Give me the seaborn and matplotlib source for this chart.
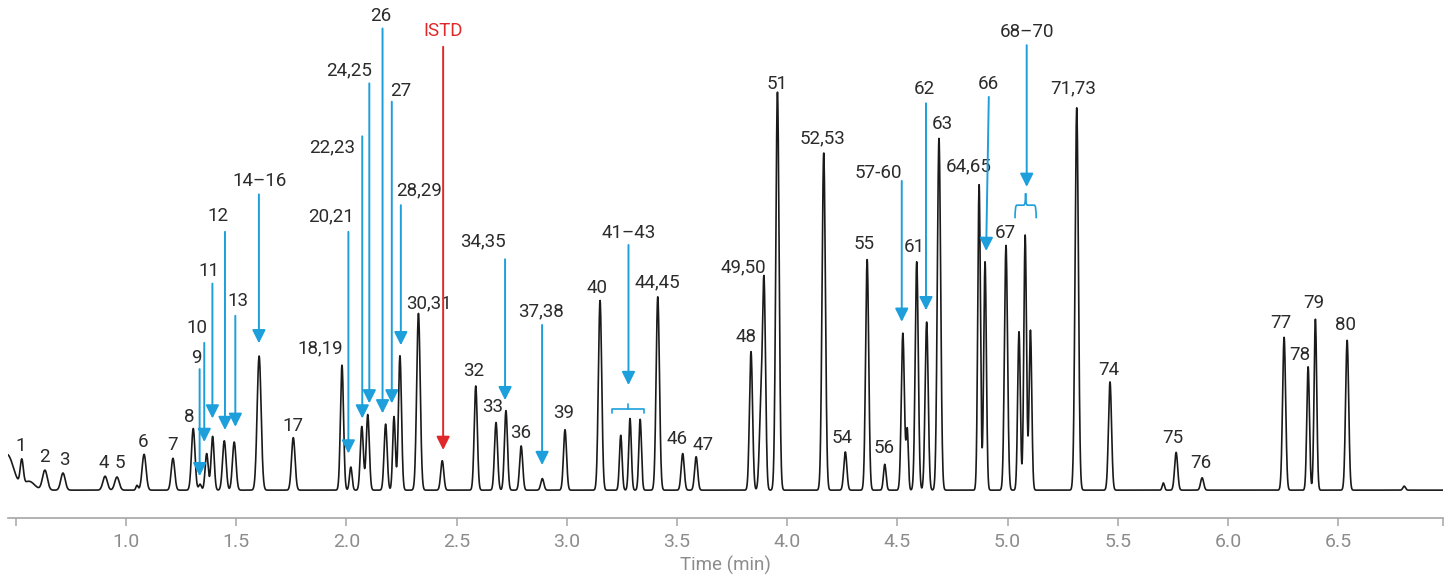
import numpy as np
import pandas as pd
import seaborn as sns
from matplotlib import pyplot as plt
from matplotlib.path import Path
from matplotlib.patches import PathPatch


sns.set_theme(style='white')
plt.rcParams['font.family'] = ['Roboto', 'DejaVu Sans']

# Peak table:
# retention time (min), apex height (% of peak 51), gaussian width (min).
peak_rt = [0.460, 0.560, 0.527, 0.632, 0.714, 0.905, 0.959, 1.050, 1.082, 1.213,
           1.305, 1.336, 1.366, 1.393, 1.446, 1.491, 1.604, 1.759, 1.980, 2.020,
           2.070, 2.097, 2.178, 2.216, 2.243, 2.327, 2.435, 2.587, 2.679, 2.724,
           2.793, 2.889, 2.992, 3.151, 3.245, 3.287, 3.333, 3.413, 3.526, 3.587,
           3.836, 3.880, 3.895, 3.956, 4.166, 4.264, 4.363, 4.443, 4.525, 4.545,
           4.588, 4.633, 4.689, 4.871, 4.898, 4.993, 5.052, 5.080, 5.104, 5.314,
           5.465, 5.707, 5.765, 5.883, 6.255, 6.364, 6.397, 6.541, 6.800]
peak_height = [9.0, 2.2, 6.2, 5.0, 4.3, 3.5, 3.3, 1.2, 9.0, 8.0,
               15.5, 1.5, 9.2, 13.5, 12.4, 12.1, 33.7, 13.2, 31.4, 5.8,
               16.0, 19.0, 16.6, 18.5, 33.8, 44.4, 7.4, 26.2, 17.0, 20.0,
               11.1, 2.9, 15.2, 47.7, 13.8, 18.0, 17.8, 48.6, 9.2, 8.4,
               34.8, 18.0, 52.0, 100.0, 84.8, 9.6, 58.0, 6.5, 39.5, 15.0,
               57.4, 42.3, 88.4, 76.9, 57.5, 61.6, 39.8, 64.1, 40.2, 96.2,
               27.2, 1.8, 9.5, 3.1, 38.4, 31.0, 43.0, 37.7, 1.0]
peak_sigma = [0.030, 0.025, 0.007, 0.011, 0.010, 0.010, 0.010, 0.005, 0.009, 0.008,
              0.008, 0.006, 0.007, 0.007, 0.008, 0.008, 0.009, 0.008, 0.007, 0.006,
              0.007, 0.007, 0.007, 0.006, 0.007, 0.008, 0.007, 0.007, 0.007, 0.007,
              0.007, 0.007, 0.007, 0.0075, 0.006, 0.006, 0.006, 0.0075, 0.007, 0.007,
              0.007, 0.007, 0.007, 0.0075, 0.0075, 0.007, 0.007, 0.006, 0.007, 0.005,
              0.007, 0.007, 0.0075, 0.006, 0.006, 0.007, 0.006, 0.006, 0.006, 0.0075,
              0.007, 0.005, 0.007, 0.007, 0.007, 0.006, 0.006, 0.007, 0.006]

# Peak labels written straight above the peaks.
label_text = ['1', '2', '3', '4', '5', '6', '7', '8', '17', '18,19',
              '30,31', '32', '33', '36', '39', '40', '44,45', '46', '47', '48',
              '49,50', '51', '52,53', '54', '55', '56', '61', '63', '64,65', '67',
              '71,73', '74', '75', '76', '77', '78', '79', '80']
label_rt = [0.522, 0.632, 0.719, 0.897, 0.973, 1.076, 1.210, 1.287, 1.759, 1.880,
            2.375, 2.576, 2.662, 2.791, 2.985, 3.139, 3.411, 3.499, 3.620, 3.814,
            3.801, 3.953, 4.162, 4.248, 4.349, 4.441, 4.577, 4.702, 4.822, 4.989,
            5.296, 5.458, 5.750, 5.877, 6.240, 6.328, 6.388, 6.533]
label_y = [11.1, 8.4, 7.5, 6.9, 6.9, 12.1, 11.3, 18.4, 16.2, 35.6,
           46.9, 30.0, 20.8, 14.3, 19.3, 50.9, 52.2, 12.9, 11.3, 38.4,
           56.1, 102.0, 88.5, 13.2, 61.9, 10.7, 61.0, 92.1, 81.4, 64.5,
           100.9, 30.2, 13.2, 6.7, 42.0, 33.9, 46.9, 41.6]

# Peak labels with a pointer arrow.
arrow_text = ['9', '10', '11', '12', '13', '14–16', '20,21', '22,23', '24,25', '26',
              '27', '28,29', 'ISTD', '34,35', '37,38', '41–43', '57-60', '62', '66', '68–70']
arrow_label_rt = [1.318, 1.321, 1.378, 1.419, 1.510, 1.605, 1.929, 1.936, 2.013, 2.156,
                  2.247, 2.331, 2.440, 2.621, 2.883, 3.283, 4.414, 4.621, 4.915, 5.087]
arrow_label_y = [33.1, 40.8, 55.1, 68.9, 47.6, 77.7, 68.7, 86.1, 105.4, 119.1,
                 100.3, 75.4, 115.4, 62.6, 44.8, 64.7, 79.7, 100.7, 102.0, 115.2]
arrow_top_rt = [1.334, 1.355, 1.392, 1.449, 1.496, 1.603, 2.009, 2.072, 2.104, 2.164,
                2.206, 2.247, 2.439, 2.720, 2.888, 3.280, 4.520, 4.630, 4.915, 5.087]
arrow_top_y = [30.4, 37.0, 51.9, 64.9, 43.8, 74.3, 64.9, 88.9, 102.2, 116.0,
               97.6, 71.6, 111.4, 58.0, 41.5, 61.6, 77.7, 97.2, 98.8, 111.8]
arrow_tip_rt = [1.334, 1.355, 1.392, 1.449, 1.496, 1.603, 2.009, 2.072, 2.104, 2.164,
                2.206, 2.247, 2.439, 2.720, 2.888, 3.280, 4.520, 4.630, 4.903, 5.087]
arrow_tip_y = [3.5, 12.1, 18.0, 15.1, 15.9, 36.9, 9.2, 18.0, 21.8, 19.3,
               21.8, 36.4, 10.1, 22.6, 6.3, 26.4, 42.3, 45.2, 60.1, 76.2]

tick_values = [0.5, 1.0, 1.5, 2.0, 2.5, 3.0, 3.5, 4.0, 4.5, 5.0, 5.5, 6.0, 6.5]

TRACE = '#1a1a1a'
TEXT = '#2b2b2b'
BLUE = '#1c9fdb'
RED = '#e0282a'
GREY = '#a6a6a6'
XMIN, XMAX = 0.4645, 6.976


# Build the trace as a sum of gaussian peaks from the peak table.
time = np.linspace(XMIN, XMAX, 7000)
rt = np.array(peak_rt)[:, None]
h = np.array(peak_height)[:, None]
s = np.array(peak_sigma)[:, None]
signal = (h * np.exp(-(time[None, :] - rt) ** 2 / (2 * s ** 2))).sum(axis=0)
trace = pd.DataFrame({'time': time, 'signal': signal})

fig = plt.figure(figsize=(14.53, 5.82), dpi=100)
ax = fig.add_axes([8 / 1453, 1 - 518 / 582, (1443 - 8) / 1453, (518 - 5) / 582])

sns.lineplot(data=trace, x='time', y='signal', ax=ax, color=TRACE,
             linewidth=1.2, estimator=None)

ax.set_xlim(XMIN, XMAX)
ax.set_ylim(-7.0, 121.9)
ax.set_yticks([])
ax.set_ylabel('')
for side in ['left', 'right', 'top']:
    ax.spines[side].set_visible(False)
ax.spines['bottom'].set_color(GREY)
ax.spines['bottom'].set_linewidth(1.2)

ax.set_xticks(tick_values + [XMAX])
ax.set_xticklabels([''] + ['{:.1f}'.format(v) for v in tick_values[1:]] + [''])
ax.tick_params(axis='x', direction='out', length=6, width=1.1, color=GREY,
               labelcolor='#8c8c8c', labelsize=14, pad=5, bottom=True)
ax.set_xlabel('Time (min)', fontsize=13.5, color='#8c8c8c', labelpad=3)

for text, x, y in zip(label_text, label_rt, label_y):
    ax.text(x, y, text, ha='center', va='center', fontsize=13.5, color=TEXT)

for i, text in enumerate(arrow_text):
    color = RED if text == 'ISTD' else BLUE
    ax.text(arrow_label_rt[i], arrow_label_y[i], text, ha='center', va='center',
            fontsize=13.5, color=RED if text == 'ISTD' else TEXT)
    ax.annotate('', xy=(arrow_tip_rt[i], arrow_tip_y[i]),
                xytext=(arrow_top_rt[i], arrow_top_y[i]),
                arrowprops=dict(arrowstyle='-|>', color=color, lw=1.4,
                                mutation_scale=20, shrinkA=0, shrinkB=0))

# Square bracket over peaks 41-43.
ax.plot([3.204, 3.204, 3.351, 3.351], [19.4, 20.5, 20.5, 19.4], color=BLUE, lw=1.2)
ax.plot([3.278, 3.278], [20.5, 21.6], color=BLUE, lw=1.2)

# Curly brace over peaks 68-70.
xl, xr, xc, d = 5.034, 5.130, 5.082, 0.008
ye, ym, yt = 68.3, 71.6, 74.6
verts = [(xl, ye), (xl, ym), (xl + d, ym), (xc - d, ym), (xc, ym), (xc, yt),
         (xc, ym), (xc + d, ym), (xr - d, ym), (xr, ym), (xr, ye)]
codes = [Path.MOVETO, Path.CURVE3, Path.CURVE3, Path.LINETO, Path.CURVE3, Path.CURVE3,
         Path.CURVE3, Path.CURVE3, Path.LINETO, Path.CURVE3, Path.CURVE3]
ax.add_patch(PathPatch(Path(verts, codes), fill=False, edgecolor=BLUE, lw=1.2))

fig.savefig('out.png', dpi=100)
plt.close(fig)
